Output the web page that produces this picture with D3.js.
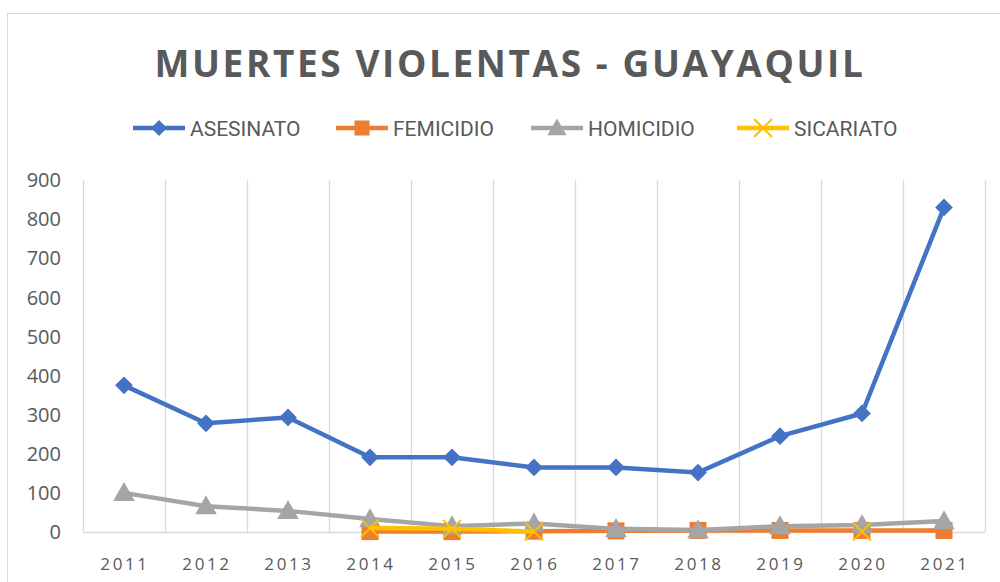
<!DOCTYPE html>
<html>
<head>
<meta charset="utf-8">
<script src="https://cdn.jsdelivr.net/npm/d3@7.9.0/dist/d3.min.js"></script>
<style>
  body { margin: 0; background: #fff; }
  svg { display: block; }
</style>
</head>
<body>
<div id="chart"></div>
<script>
const years = ['2011', '2012', '2013', '2014', '2015', '2016', '2017', '2018', '2019', '2020', '2021'];
const asesinato = [375, 278, 293, 191, 191, 165, 165, 152, 245, 303, 830];
const femicidio = [null, null, null, 1, 1, 2, 3, 4, 4, 4, 4];
const homicidio = [100, 66, 54, 33, 15, 22, 8, 5, 15, 18, 28];
const sicariato = [null, null, null, 10, 8, 1, null, null, null, 1, null];
const yTicks = [0, 100, 200, 300, 400, 500, 600, 700, 800, 900];

const series = [
  { name: 'ASESINATO', values: asesinato, color: '#4472c4', marker: 'diamond' },
  { name: 'FEMICIDIO', values: femicidio, color: '#ed7d31', marker: 'square' },
  { name: 'HOMICIDIO', values: homicidio, color: '#a5a5a5', marker: 'triangle' },
  { name: 'SICARIATO', values: sicariato, color: '#ffc000', marker: 'cross' },
];

const width = 1000;
const height = 582;
const margin = { top: 180, right: 15, bottom: 50, left: 83 };

const svg = d3.select('#chart')
  .append('svg')
  .attr('width', width)
  .attr('height', height);

// chart frame
svg.append('rect')
  .attr('x', 7.5).attr('y', 13.5)
  .attr('width', 1010).attr('height', 600)
  .attr('fill', 'none')
  .attr('stroke', '#d9d9d9');

const xScale = d3.scaleBand()
  .domain(years)
  .range([margin.left, width - margin.right]);

const yScale = d3.scaleLinear()
  .domain([0, 900])
  .range([height - margin.bottom, margin.top]);

// vertical gridlines at category boundaries
const bounds = years.map((d) => xScale(d)).concat([xScale.range()[1]]);
svg.append('g')
  .selectAll('line')
  .data(bounds)
  .join('line')
  .attr('x1', (d) => Math.round(d) + 0.5)
  .attr('x2', (d) => Math.round(d) + 0.5)
  .attr('y1', yScale(900))
  .attr('y2', yScale(0))
  .attr('stroke', '#d9d9d9')
  .attr('stroke-width', 1.3);

// x axis line
svg.append('line')
  .attr('x1', xScale.range()[0])
  .attr('x2', xScale.range()[1])
  .attr('y1', yScale(0) + 0.5)
  .attr('y2', yScale(0) + 0.5)
  .attr('stroke', '#d9d9d9')
  .attr('stroke-width', 1.3);

// y labels
svg.append('g')
  .selectAll('text')
  .data(yTicks)
  .join('text')
  .attr('x', 61)
  .attr('y', (d) => yScale(d))
  .attr('dy', '0.36em')
  .attr('text-anchor', 'end')
  .attr('font-family', 'Open Sans, sans-serif')
  .attr('font-size', 20)
  .attr('fill', '#595959')
  .text((d) => d);

// x labels
svg.append('g')
  .selectAll('text')
  .data(years)
  .join('text')
  .attr('x', (d) => xScale(d) + xScale.bandwidth() / 2 + 1)
  .attr('y', 570)
  .attr('text-anchor', 'middle')
  .attr('font-family', 'Open Sans, sans-serif')
  .attr('font-size', 17)
  .attr('letter-spacing', 2.6)
  .attr('fill', '#595959')
  .text((d) => d);

function drawMarker(g, type, color, size) {
  if (type === 'diamond') {
    g.append('path').attr('d', d3.symbol(d3.symbolDiamond2, size * size * 0.62)())
      .attr('fill', color);
  } else if (type === 'square') {
    g.append('rect').attr('x', -size / 2 + 0.5).attr('y', -size / 2 + 0.5)
      .attr('width', size - 1).attr('height', size - 1).attr('fill', color);
  } else if (type === 'triangle') {
    g.append('path').attr('d', `M0,${-size * 0.6}L${size * 0.6},${size * 0.45}L${-size * 0.6},${size * 0.45}Z`)
      .attr('fill', color);
  } else if (type === 'cross') {
    const s = size * 0.45;
    g.append('path').attr('d', `M${-s},${-s}L${s},${s}M${s},${-s}L${-s},${s}`)
      .attr('stroke', color).attr('stroke-width', 2);
  }
}

const line = d3.line()
  .defined((d) => d.v !== null)
  .x((d) => xScale(d.year) + xScale.bandwidth() / 2)
  .y((d) => yScale(d.v));

// draw order: asesinato, femicidio, homicidio, sicariato
series.forEach((s) => {
  const pts = years.map((year, i) => ({ year, v: s.values[i] }));
  const g = svg.append('g');
  g.append('path')
    .datum(pts)
    .attr('d', line)
    .attr('fill', 'none')
    .attr('stroke', s.color)
    .attr('stroke-width', 4.5)
    .attr('stroke-linejoin', 'round');
  pts.filter((d) => d.v !== null).forEach((d) => {
    const m = g.append('g')
      .attr('transform', `translate(${xScale(d.year) + xScale.bandwidth() / 2},${yScale(d.v)})`);
    drawMarker(m, s.marker, s.color, s.marker === 'cross' ? 20 : 18);
  });
});

// title
svg.append('text')
  .attr('x', 510)
  .attr('y', 77)
  .attr('text-anchor', 'middle')
  .attr('font-family', 'Open Sans, sans-serif')
  .attr('font-weight', 'bold')
  .attr('font-size', 37)
  .attr('letter-spacing', 2.6)
  .attr('fill', '#595959')
  .text('MUERTES VIOLENTAS - GUAYAQUIL');

// legend
const legendX = [133, 336, 531, 737];
const legend = svg.append('g');
series.forEach((s, i) => {
  const g = legend.append('g').attr('transform', `translate(${legendX[i]},128)`);
  g.append('line').attr('x1', 0).attr('x2', 52).attr('y1', 0).attr('y2', 0)
    .attr('stroke', s.color).attr('stroke-width', 4.5);
  const m = g.append('g').attr('transform', 'translate(26,0)');
  drawMarker(m, s.marker, s.color, s.marker === 'cross' ? 20 : 16);
  g.append('text')
    .attr('x', 57)
    .attr('y', 0)
    .attr('dy', '0.36em')
    .attr('font-family', 'Liberation Sans Narrow, Roboto, sans-serif')
    .attr('font-size', 21)
    .attr('fill', '#595959')
    .text(s.name);
});
</script>
</body>
</html>
